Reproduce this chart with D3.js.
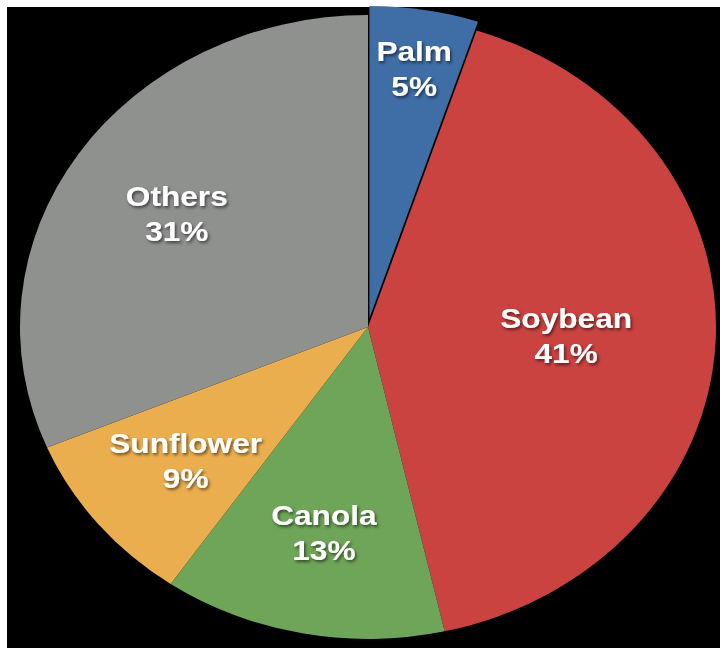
<!DOCTYPE html>
<html><head><meta charset="utf-8">
<script src="https://cdn.jsdelivr.net/npm/d3@7"></script>
<style>html,body{margin:0;padding:0;background:#fff;}svg{display:block;}</style>
</head><body>
<script>
const categories = ["Palm", "Soybean", "Canola", "Sunflower", "Others"];
const values = [5, 41, 13, 9, 31];
const labels = ["5%", "41%", "13%", "9%", "31%"];
const colors = ["#3f6ea6", "#ca4340", "#6fa558", "#ebae4e", "#8f918f"];
// layout constants
const labelR = [0.84, 0.57, 0.67, 0.675, 0.66];
const explode = [9, 0, 0, 0, 0];

const W = 720, H = 648;
const cx = 368, cy = 327, rx = 348, ry = 312;
const svg = d3.select("body").append("svg").attr("width", W).attr("height", H);
svg.append("rect").attr("x", 7).attr("y", 7).attr("width", W - 7).attr("height", H - 7).attr("fill", "#000");

const defs = svg.append("defs");
const f = defs.append("filter").attr("id", "sh").attr("x", "-20%").attr("y", "-20%").attr("width", "140%").attr("height", "140%");
f.append("feDropShadow").attr("dx", 1.5).attr("dy", 2).attr("stdDeviation", 1.5).attr("flood-color", "#000").attr("flood-opacity", 0.55);

const data = categories.map((c, i) => ({ c, v: values[i], l: labels[i], i }));
const pie = d3.pie().value(d => d.v).sort(null);
const arcs = pie(data);
const R = 100;
const arc = d3.arc().innerRadius(0).outerRadius(R);

const g = svg.append("g").attr("transform", `translate(${cx},${cy}) scale(${rx / R},${ry / R})`);
g.selectAll("path").data(arcs).join("path")
  .attr("d", arc)
  .attr("fill", d => colors[d.data.i])
  .attr("transform", d => {
    const m = (d.startAngle + d.endAngle) / 2, e = explode[d.data.i];
    return `translate(${Math.sin(m) * e * R / rx},${-Math.cos(m) * e * R / ry})`;
  });

const lg = svg.append("g").attr("filter", "url(#sh)");
arcs.forEach(d => {
  const m = (d.startAngle + d.endAngle) / 2, k = labelR[d.data.i];
  const x = cx + Math.sin(m) * k * rx, y = cy - Math.cos(m) * k * ry;
  const t = lg.append("text")
    .attr("transform", `translate(${x},${y}) scale(1.13,1)`)
    .attr("text-anchor", "middle")
    .attr("font-family", "Liberation Sans, Arial, sans-serif")
    .attr("font-weight", "bold").attr("font-size", 28).attr("fill", "#fff");
  t.append("tspan").attr("x", 0).attr("y", -7).text(d.data.c);
  t.append("tspan").attr("x", 0).attr("y", 28).text(d.data.l);
});
</script>
</body></html>
